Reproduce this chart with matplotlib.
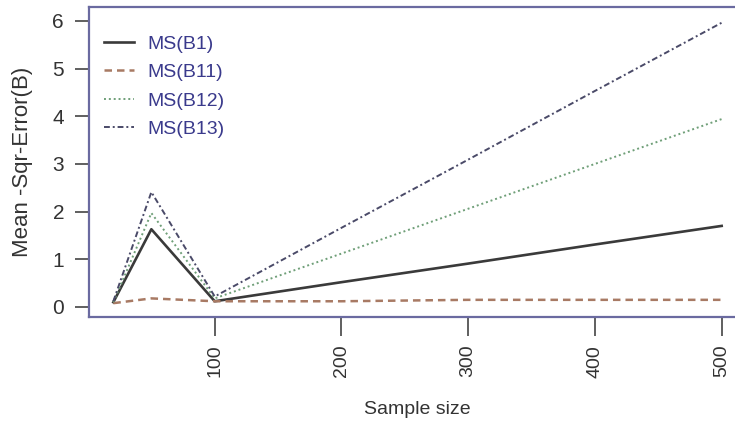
import matplotlib
matplotlib.use("Agg")
import matplotlib.pyplot as plt

plt.rcParams['font.family'] = ['Liberation Sans', 'DejaVu Sans']

sample_size = [20, 50, 100, 200, 300, 400, 500]
ms_b1  = [0.10, 1.63, 0.12, 0.52, 0.91, 1.31, 1.70]
ms_b11 = [0.08, 0.18, 0.12, 0.12, 0.15, 0.15, 0.15]
ms_b12 = [0.10, 1.97, 0.18, 1.12, 2.06, 3.00, 3.94]
ms_b13 = [0.12, 2.41, 0.22, 1.66, 3.09, 4.53, 5.96]
labels = ['MS(B1)', 'MS(B11)', 'MS(B12)', 'MS(B13)']
xticks = [100, 200, 300, 400, 500]
yticks = [0, 1, 2, 3, 4, 5, 6]

fig = plt.figure(figsize=(7.35, 4.33), dpi=100)
W, H = 735, 433
ax = fig.add_axes([89 / W, 1 - 317 / H, (746 - 89) / W, (317 - 7) / H])

ax.plot(sample_size, ms_b1, color='#3a3a3a', lw=1.9, ls='-', label=labels[0])
ax.plot(sample_size, ms_b11, color='#a87a64', lw=1.8, ls=(0, (3, 2)), label=labels[1])
ax.plot(sample_size, ms_b12, color='#6f9f78', lw=1.4, ls=(0, (1, 1.5)), label=labels[2])
ax.plot(sample_size, ms_b13, color='#4a4a68', lw=1.4, ls=(0, (3, 1.5, 1, 1.5)), label=labels[3])

ax.set_xlim(0.8, 519.2)
ax.set_ylim(-0.21, 6.29)
ax.set_xticks(xticks)
ax.set_yticks(yticks)
ax.set_xticklabels([str(t) for t in xticks], rotation=90, fontsize=14, color='#333333')
ax.set_yticklabels([str(t) for t in yticks], fontsize=15, color='#333333')
ax.tick_params(axis='x', length=14, width=1.2, color='#444444', pad=6)
ax.tick_params(axis='y', length=10, width=1.2, color='#444444', pad=8)
for s in ax.spines.values():
    s.set_color('#6a6aa0')
    s.set_linewidth(1.6)

ax.set_xlabel('Sample size', fontsize=14, color='#333333', labelpad=17)
ax.set_ylabel('Mean -Sqr-Error(B)', fontsize=16, color='#333333', labelpad=14)

leg = ax.legend(loc='upper left', bbox_to_anchor=(-0.004, 0.965), frameon=False,
                fontsize=14, handlelength=1.55, handletextpad=0.7, labelspacing=0.55)
for t in leg.get_texts():
    t.set_color('#3a3a8c')

fig.savefig('out.png', dpi=100)
